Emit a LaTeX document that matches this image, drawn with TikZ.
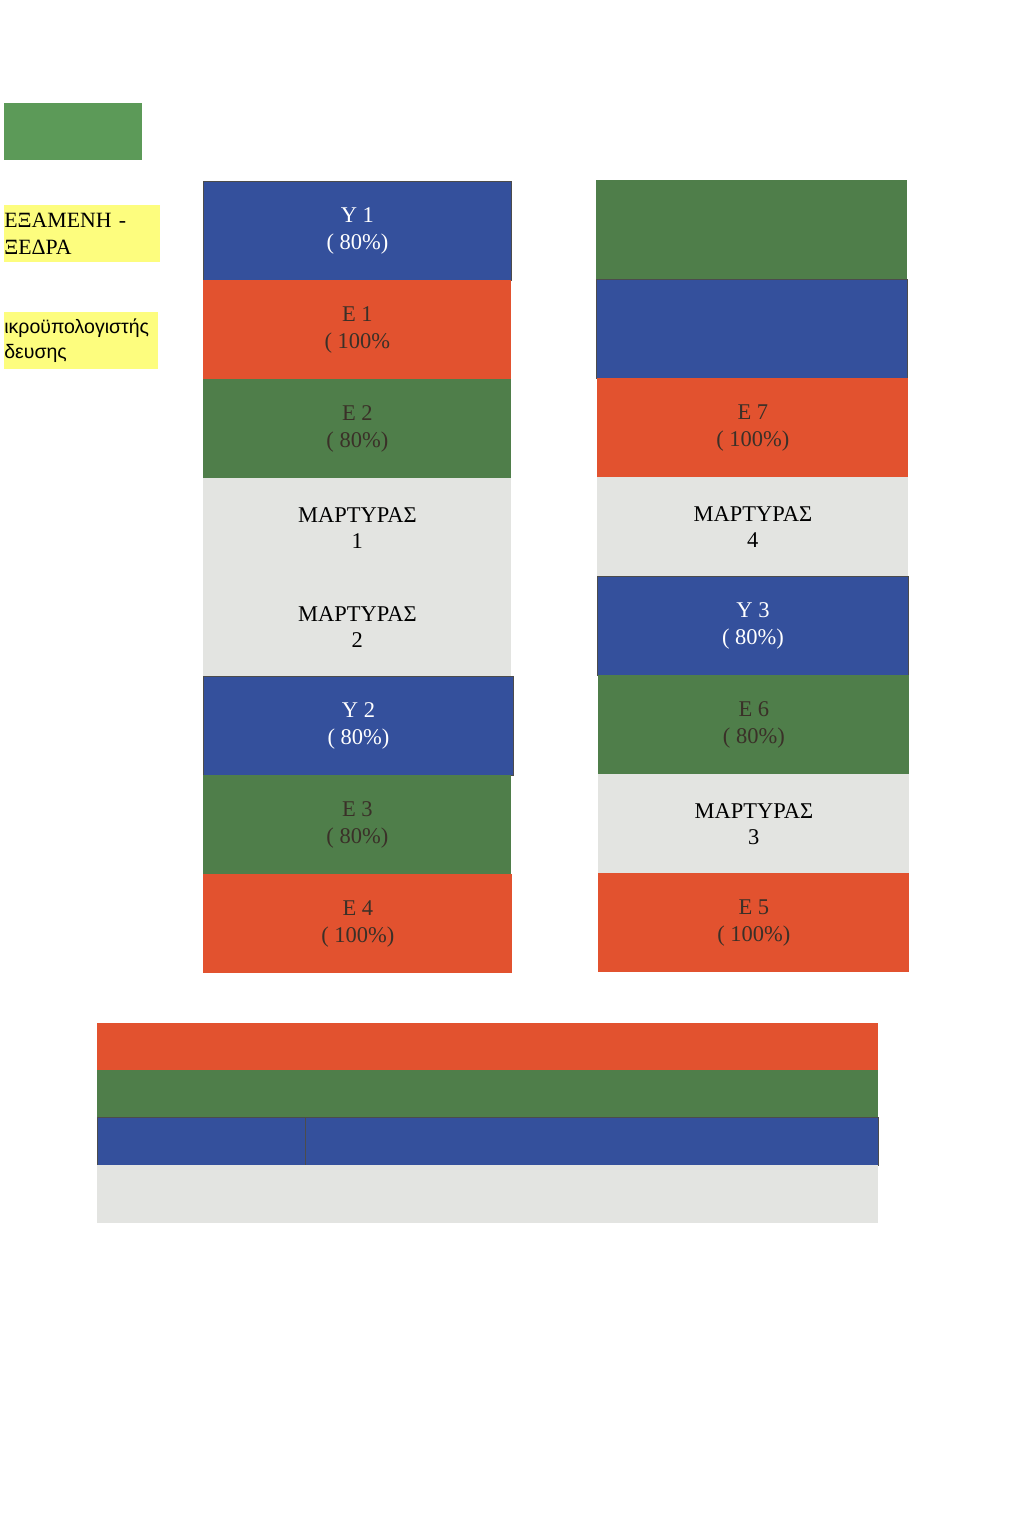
\documentclass[tikz,border=0pt]{standalone}
\usepackage{fontspec}
\setmainfont{Liberation Serif}
\newfontfamily\grsans{Liberation Sans}
\usepackage{tikz}
\definecolor{cblue}{RGB}{52,80,156}
\definecolor{cred}{RGB}{226,82,47}
\definecolor{cgreen}{RGB}{79,126,74}
\definecolor{cgrey}{RGB}{227,228,225}
\definecolor{cleaf}{RGB}{92,154,88}
\definecolor{cnote}{RGB}{253,253,126}
\definecolor{cink}{RGB}{58,48,40}
\tikzset{
	cell/.style={rectangle, inner sep=0pt, anchor=north west, align=center,
		minimum width=61.8mm, minimum height=19.8mm,
		font=\fontsize{12.8}{15}\selectfont, text=cink},
	bluecell/.style={cell, fill=cblue, draw=black!70, line width=0.5pt, text=white},
	redcell/.style={cell, fill=cred},
	greencell/.style={cell, fill=cgreen},
	greycell/.style={cell, fill=cgrey, text=black},
	bar/.style={rectangle, inner sep=0pt, anchor=north west, minimum height=9.4mm},
	note/.style={rectangle, inner sep=0pt, anchor=north west, fill=cnote, align=left,
		minimum height=11.4mm, text width=31.2mm}
}
\begin{document}
\begin{tikzpicture}[x=0.2mm, y=-0.2mm]
		\useasboundingbox (0,0) rectangle (1024,1537);
		%%%%% LEGEND %%%%%
		\node[rectangle, inner sep=0pt, anchor=north west, fill=cleaf,
			minimum width=27.6mm, minimum height=11.4mm] (keyLeaf) at (4,103) {};
		\node[note, font=\fontsize{12.4}{15}\selectfont] (keyTank) at (4,205) {ΕΞΑΜΕΝΗ -\\ΞΕΔΡΑ};
		\node[note, text width=30.8mm, font=\grsans\fontsize{11.1}{14.4}\selectfont] (keyPc) at (4,312) {ικροϋπολογιστής\\δευσης};
		
		%%%%% LEFT COLUMN %%%%%
		\node[bluecell, minimum width=61.6mm] (y1) at (203,181) {Υ 1\\( 80\%)};
		\node[redcell, minimum width=61.6mm] (e1) at (203,280) {Ε 1\\( 100\%};
		\node[greencell, minimum width=61.6mm] (e2) at (203,379) {Ε 2\\( 80\%)};
		\node[greycell, minimum width=61.6mm] (m1) at (203,478) {ΜΑΡΤΥΡΑΣ\\1};
		\node[greycell, minimum width=61.6mm] (m2) at (203,577) {ΜΑΡΤΥΡΑΣ\\2};
		\node[bluecell, minimum width=62.0mm] (y2) at (203,676) {Υ 2\\( 80\%)};
		\node[greencell, minimum width=61.6mm] (e3) at (203,775) {Ε 3\\( 80\%)};
		\node[redcell, minimum width=61.8mm] (e4) at (203,874) {Ε 4\\( 100\%)};
		
		%%%%% RIGHT COLUMN %%%%%
		\node[greencell, minimum width=62.2mm] (r1) at (596,180) {};
		\node[bluecell, minimum width=62.2mm] (r2) at (596,279) {};
		\node[redcell, minimum width=62.2mm] (e7) at (597,378) {Ε 7\\( 100\%)};
		\node[greycell, minimum width=62.2mm] (m4) at (597,477) {ΜΑΡΤΥΡΑΣ\\4};
		\node[bluecell, minimum width=62.2mm] (y3) at (597,576) {Υ 3\\( 80\%)};
		\node[greencell, minimum width=62.2mm] (e6) at (598,675) {Ε 6\\( 80\%)};
		\node[greycell, minimum width=62.2mm] (m3) at (598,774) {ΜΑΡΤΥΡΑΣ\\3};
		\node[redcell, minimum width=62.2mm] (e5) at (598,873) {Ε 5\\( 100\%)};
		
		%%%%% BOTTOM BARS %%%%%
		\node[bar, fill=cred, minimum width=156.2mm] (barRed) at (97,1023) {};
		\node[bar, fill=cgreen, minimum width=156.2mm] (barGreen) at (97,1070) {};
		\node[bar, fill=cblue, draw=black!70, line width=0.5pt, minimum width=41.6mm, minimum height=9.6mm] (barBlueA) at (97,1117) {};
		\node[bar, fill=cblue, draw=black!70, line width=0.5pt, minimum width=114.6mm, minimum height=9.6mm] (barBlueB) at (305,1117) {};
		\node[bar, fill=cgrey, minimum width=156.2mm, minimum height=11.6mm] (barGrey) at (97,1165) {};
	\end{tikzpicture}
\end{document}
